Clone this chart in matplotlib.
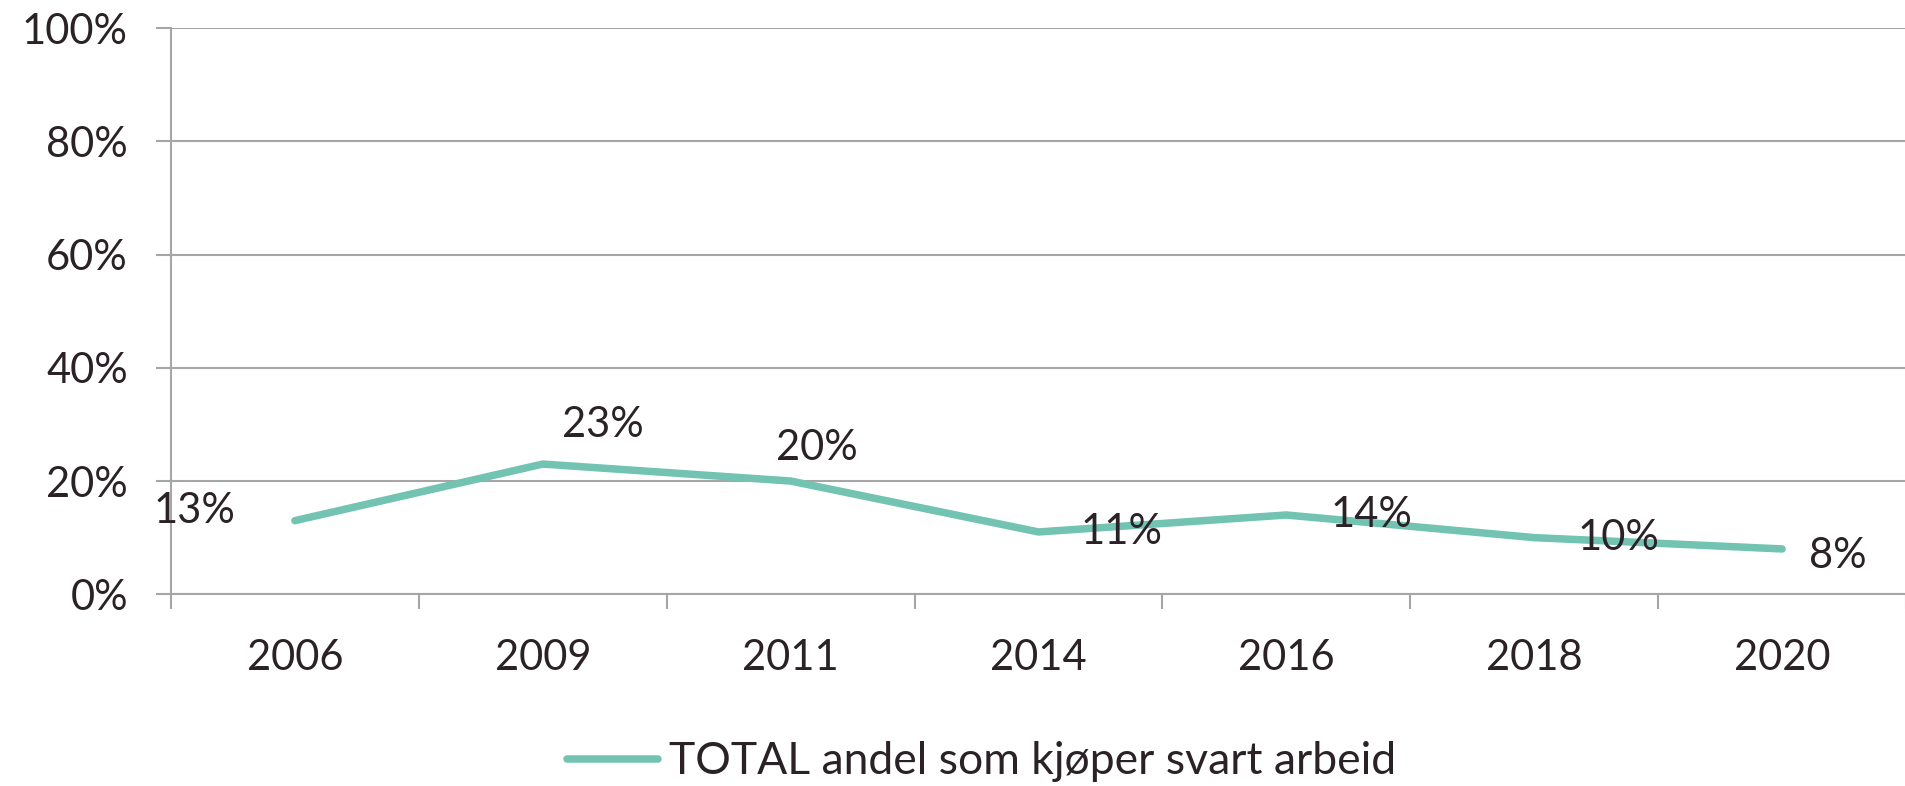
import numpy as np
import matplotlib.pyplot as plt
from matplotlib.ticker import PercentFormatter

years = ["2006", "2009", "2011", "2014", "2016", "2018", "2020"]
andel = [0.13, 0.23, 0.20, 0.11, 0.14, 0.10, 0.08]
labels = ["13%", "23%", "20%", "11%", "14%", "10%", "8%"]
series_name = "TOTAL andel som kjøper svart arbeid"

# label offsets (points) - like the excel data label placement
offsets = [(-72, 7), (43, 28), (19, 24), (60, 0), (61, 0), (61, 0), (40, -5)]

plt.rcParams['font.family'] = ['Lato', 'DejaVu Sans']
txt = '#2a2226'
grid = '#a6a6a6'
teal = '#72c3b1'

fig = plt.figure(figsize=(19.06, 7.86), dpi=100)
ax = fig.add_axes([0.0897, 0.244, 0.9103, 0.72])

x = np.arange(len(years))
ax.plot(x, andel, color=teal, lw=5.4, solid_capstyle='round', label=series_name)

for xi, yi, lab, off in zip(x, andel, labels, offsets):
    ax.annotate(lab, (xi, yi), xytext=off, textcoords='offset points',
                ha='center', va='center', fontsize=30, color=txt)

ax.set_xlim(-0.5, len(years) - 0.5)
ax.set_ylim(0, 1)
ax.set_yticks(np.arange(0, 1.01, 0.2))
ax.yaxis.set_major_formatter(PercentFormatter(1.0, decimals=0))
ax.grid(axis='y', color=grid, lw=1.5)
ax.set_axisbelow(True)

ax.set_xticks(x)
ax.set_xticklabels(years)
ax.set_xticks(np.arange(-0.5, len(years)), minor=True)
ax.tick_params(axis='x', which='major', length=0, pad=32, labelsize=30, labelcolor=txt)
ax.tick_params(axis='x', which='minor', length=11, width=1.5, color=grid)
ax.tick_params(axis='y', length=11, width=1.5, color=grid, pad=20, labelsize=30, labelcolor=txt)

for s in ['top', 'right']:
    ax.spines[s].set_visible(False)
for s in ['left', 'bottom']:
    ax.spines[s].set_color(grid)
    ax.spines[s].set_linewidth(1.5)

fig.legend(loc='center', bbox_to_anchor=(0.515, 0.031), frameon=False,
           fontsize=32, handlelength=2.05, handletextpad=0.25, labelcolor=txt)

fig.savefig('out.png', dpi=100)
